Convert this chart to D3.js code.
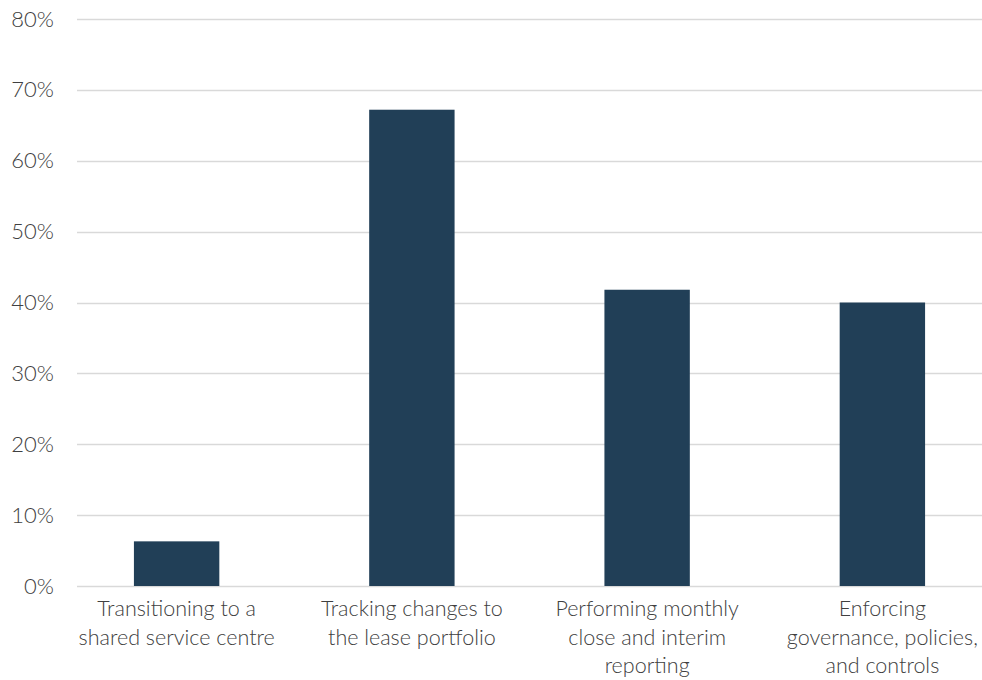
<!DOCTYPE html>
<html>
<head>
<meta charset="utf-8">
<script src="https://cdn.jsdelivr.net/npm/d3@7/dist/d3.min.js"></script>
<style>
  html, body { margin: 0; padding: 0; background: #ffffff; }
  svg { display: block; }
  text { font-family: "Lato", "Open Sans", sans-serif; font-weight: 300; fill: #404040; }
</style>
</head>
<body>
<svg id="chart" width="982" height="680"></svg>
<script>
// Share of respondents by area of focus
const categories = [
  ["Transitioning to a", "shared service centre"],
  ["Tracking changes to", "the lease portfolio"],
  ["Performing monthly", "close and interim", "reporting"],
  ["Enforcing", "governance, policies,", "and controls"]
];
const values = [0.063, 0.672, 0.418, 0.400];
const yTicks = [0, 0.1, 0.2, 0.3, 0.4, 0.5, 0.6, 0.7, 0.8];

const svg = d3.select("#chart");
const W = 982, H = 680;
const gridLeft = 77;

const x = d3.scaleBand()
  .domain(d3.range(categories.length))
  .range([59, 1000])
  .paddingInner(0.637)
  .paddingOuter(0.3185);

const y = d3.scaleLinear().domain([0, 0.8]).range([586, 19]);

// horizontal gridlines
svg.append("g")
  .selectAll("line")
  .data(yTicks)
  .join("line")
  .attr("x1", gridLeft)
  .attr("x2", W)
  .attr("y1", d => Math.round(y(d)) + 0.5)
  .attr("y2", d => Math.round(y(d)) + 0.5)
  .attr("stroke", "#d9d9d9")
  .attr("stroke-width", 1.6);

// y axis labels
const yAxis = d3.axisLeft(y)
  .tickValues(yTicks)
  .tickFormat(d3.format(".0%"))
  .tickSize(0)
  .tickPadding(0);

const ya = svg.append("g")
  .attr("transform", "translate(54,0)")
  .call(yAxis);
ya.select(".domain").remove();
ya.selectAll("text")
  .attr("font-size", 22)
  .attr("fill", "#404040")
  .style("font-family", "Lato, sans-serif")
  .style("font-weight", 300);

// bars
svg.append("g")
  .selectAll("rect")
  .data(values)
  .join("rect")
  .attr("x", (d, i) => x(i))
  .attr("width", x.bandwidth())
  .attr("y", d => y(d))
  .attr("height", d => y(0) - y(d))
  .attr("fill", "#213f57");

// category labels
const xl = svg.append("g")
  .selectAll("text")
  .data(categories)
  .join("text")
  .attr("text-anchor", "middle")
  .attr("font-size", 21.5)
  .attr("transform", (d, i) => `translate(${x(i) + x.bandwidth() / 2},616)`);

xl.selectAll("tspan")
  .data(d => d)
  .join("tspan")
  .attr("x", 0)
  .attr("y", (d, j) => j * 28.5)
  .text(d => d);
</script>
</body>
</html>
